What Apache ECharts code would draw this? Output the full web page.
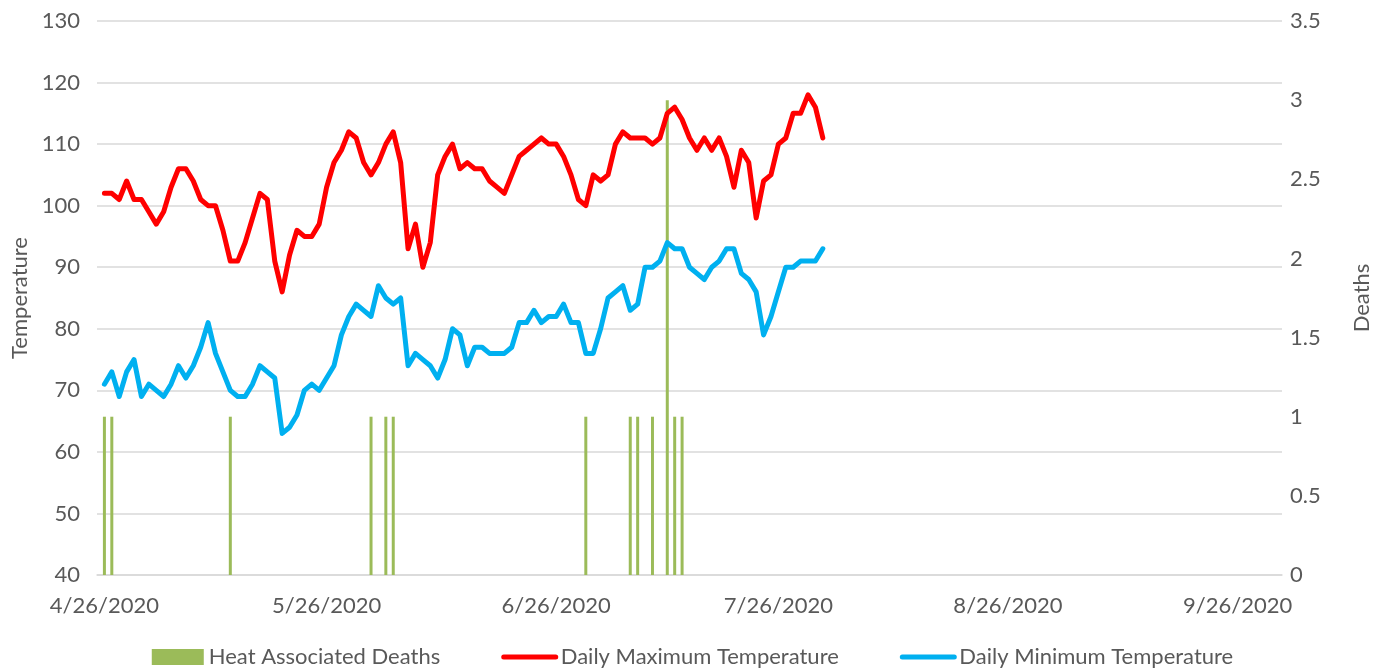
<!DOCTYPE html>
<html>
<head>
<meta charset="utf-8">
<script src="https://cdn.jsdelivr.net/npm/echarts@6/dist/echarts.min.js"></script>
<style>
  html, body { margin: 0; padding: 0; background: #ffffff; }
  #chart { width: 1385px; height: 670px; }
</style>
</head>
<body>
<div id="chart"></div>
<script>
// ---- Data ----
const axisStart = '4/25/2020';   // first category on the date axis
const axisEnd = '10/2/2020';     // last category on the date axis
const firstDataDate = '4/26/2020';

const maxTemp = [
  102,102,101,104,101,101,99,97,99,103,106,106,104,101,100,100,96,91,91,94,98,102,101,91,86,
  92,96,95,95,97,103,107,109,112,111,107,105,107,110,112,107,93,97,90,94,105,108,110,106,
  107,106,106,104,103,102,105,108,109,110,111,110,110,108,105,101,100,105,104,105,110,112,111,111,111,
  110,111,115,116,114,111,109,111,109,111,108,103,109,107,98,104,105,110,111,115,115,118,116,111
];

const minTemp = [
  71,73,69,73,75,69,71,70,69,71,74,72,74,77,81,76,73,70,69,69,71,74,73,72,63,
  64,66,70,71,70,72,74,79,82,84,83,82,87,85,84,85,74,76,75,74,72,75,80,79,
  74,77,77,76,76,76,77,81,81,83,81,82,82,84,81,81,76,76,80,85,86,87,83,84,90,
  90,91,94,93,93,90,89,88,90,91,93,93,89,88,86,79,82,86,90,90,91,91,91,93
];

const deathDates = ['4/26/2020','4/27/2020','5/13/2020','6/1/2020','6/3/2020','6/4/2020',
  '6/30/2020','7/6/2020','7/7/2020','7/9/2020','7/11/2020','7/12/2020','7/13/2020'];
const deathCounts = [1,1,1,1,1,1,1,1,1,1,3,1,1];

const tempTicks = { min: 40, max: 130, interval: 10 };
const deathTicks = { min: 0, max: 3.5, interval: 0.5 };

const seriesNames = ['Heat Associated Deaths', 'Daily Maximum Temperature', 'Daily Minimum Temperature'];

// ---- Helpers to build the category axis ----
const DAY = 86400000;
function parseMDY(s) { const p = s.split('/').map(Number); return Date.UTC(p[2], p[0] - 1, p[1]); }
function fmt(t) { const d = new Date(t); return (d.getUTCMonth() + 1) + '/' + d.getUTCDate() + '/' + d.getUTCFullYear(); }

const categories = [];
for (let t = parseMDY(axisStart); t <= parseMDY(axisEnd); t += DAY) categories.push(fmt(t));

const t0 = parseMDY(firstDataDate);
const maxData = maxTemp.map((v, i) => [fmt(t0 + i * DAY), v]);
const minData = minTemp.map((v, i) => [fmt(t0 + i * DAY), v]);
const deathData = deathDates.map((d, i) => [d, deathCounts[i]]);

const textColor = '#595959';
const gridColor = '#D9D9D9';
const font = 'Lato, "Open Sans", sans-serif';
const fs = 22;

const chart = echarts.init(document.getElementById('chart'), null, { renderer: 'canvas' });
chart.setOption({
  animation: false,
  backgroundColor: '#ffffff',
  textStyle: { fontFamily: font },
  grid: { left: 97, right: 103, top: 21, bottom: 95, containLabel: false },
  legend: {
    top: 641,
    left: 'center',
    itemWidth: 52,
    itemHeight: 16,
    itemGap: 61,
    textStyle: { color: textColor, fontSize: fs, fontFamily: font },
    lineStyle: { width: 5, cap: 'round' },
    data: [
      { name: seriesNames[0], icon: 'rect' },
      { name: seriesNames[1], itemStyle: { opacity: 0 } },
      { name: seriesNames[2], itemStyle: { opacity: 0 } }
    ]
  },
  xAxis: {
    type: 'category',
    data: categories,
    boundaryGap: false,
    axisLine: { lineStyle: { color: gridColor, width: 1.5 } },
    axisTick: { show: false },
    splitLine: { show: false },
    axisLabel: {
      color: textColor,
      fontSize: fs,
      margin: 20,
      interval: function (index, value) { return value.split('/')[1] === '26'; }
    }
  },
  yAxis: [
    {
      type: 'value',
      name: 'Temperature',
      nameLocation: 'middle',
      nameGap: 66,
      nameTextStyle: { color: textColor, fontSize: fs },
      min: tempTicks.min, max: tempTicks.max, interval: tempTicks.interval,
      axisLine: { show: false },
      axisTick: { show: false },
      axisLabel: { color: textColor, fontSize: fs, margin: 17 },
      splitLine: { lineStyle: { color: gridColor, width: 1.5 } }
    },
    {
      type: 'value',
      name: 'Deaths',
      nameLocation: 'middle',
      nameGap: 69,
      nameRotate: 90,
      nameTextStyle: { color: textColor, fontSize: fs },
      min: deathTicks.min, max: deathTicks.max, interval: deathTicks.interval,
      axisLine: { show: false },
      axisTick: { show: false },
      axisLabel: { color: textColor, fontSize: fs, margin: 8 },
      splitLine: { show: false }
    }
  ],
  series: [
    {
      name: seriesNames[0],
      type: 'bar',
      yAxisIndex: 1,
      data: deathData,
      barWidth: 3,
      itemStyle: { color: '#9BBB59' }
    },
    {
      name: seriesNames[1],
      type: 'line',
      yAxisIndex: 0,
      data: maxData,
      symbol: 'none',
      lineStyle: { color: '#FF0000', width: 5, join: 'round', cap: 'round' },
      itemStyle: { color: '#FF0000' }
    },
    {
      name: seriesNames[2],
      type: 'line',
      yAxisIndex: 0,
      data: minData,
      symbol: 'none',
      lineStyle: { color: '#00B0F0', width: 5, join: 'round', cap: 'round' },
      itemStyle: { color: '#00B0F0' }
    }
  ]
});
</script>
</body>
</html>
